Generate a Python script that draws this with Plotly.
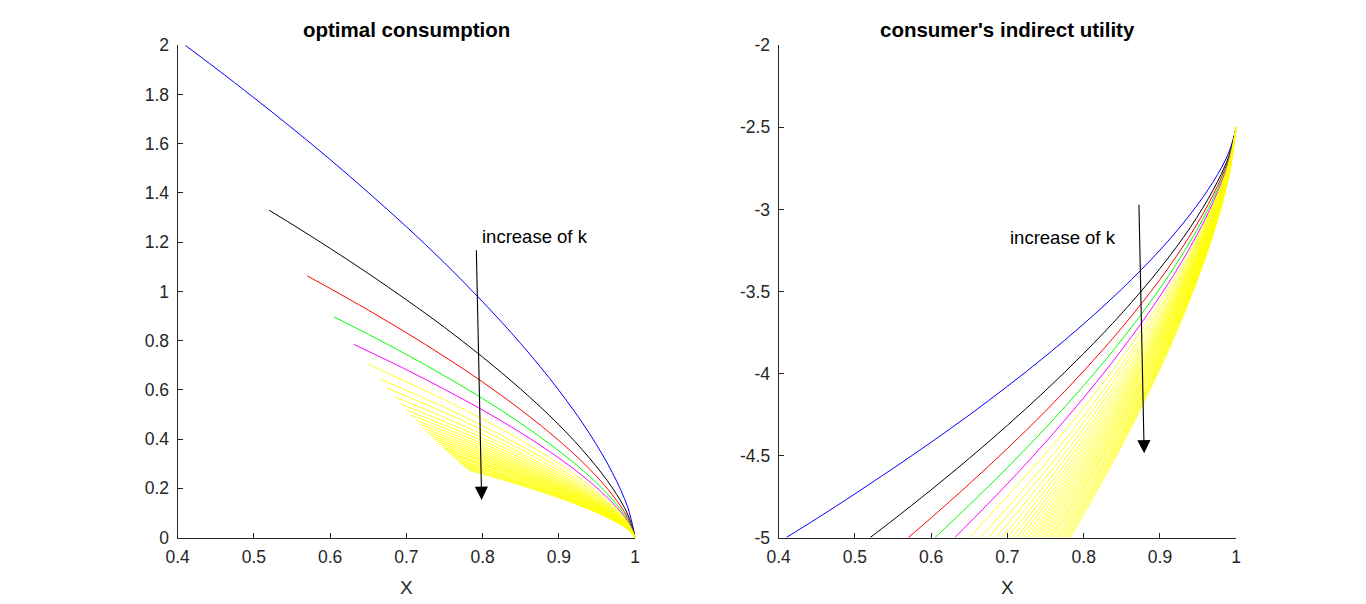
import plotly.graph_objects as go

# ---------------- data ----------------
X_TICKS = [0.4, 0.5, 0.6, 0.7, 0.8, 0.9, 1.0]
X_TICK_TEXT = ["0.4", "0.5", "0.6", "0.7", "0.8", "0.9", "1"]
Y1_TICKS = [0, 0.2, 0.4, 0.6, 0.8, 1.0, 1.2, 1.4, 1.6, 1.8, 2.0]
Y1_TICK_TEXT = ["0", "0.2", "0.4", "0.6", "0.8", "1", "1.2", "1.4", "1.6", "1.8", "2"]
Y2_TICKS = [-5, -4.5, -4, -3.5, -3, -2.5, -2]
Y2_TICK_TEXT = ["-5", "-4.5", "-4", "-3.5", "-3", "-2.5", "-2"]

TITLE_LEFT = "optimal consumption"
TITLE_RIGHT = "consumer's indirect utility"
X_LABEL = "X"
ARROW_TEXT = "increase of k"

BLUE_X = [0.41, 0.45, 0.50, 0.55, 0.60, 0.65, 0.70, 0.75, 0.80, 0.85, 0.90, 0.94, 0.97, 0.99, 1.00]
BLUE_C = [2.0, 1.907, 1.787, 1.664, 1.536, 1.402, 1.263, 1.116, 0.958, 0.788, 0.598, 0.423, 0.264, 0.125, 0.0]
BLUE_V = [-5.0, -4.884, -4.734, -4.579, -4.419, -4.253, -4.078, -3.894, -3.698, -3.485, -3.248, -3.028, -2.830, -2.656, -2.5]

BLACK_X = [0.52, 0.55, 0.60, 0.65, 0.70, 0.75, 0.80, 0.85, 0.90, 0.94, 0.97, 0.99, 1.00]
BLACK_C = [1.33, 1.273, 1.175, 1.073, 0.966, 0.854, 0.733, 0.603, 0.458, 0.323, 0.202, 0.096, 0.0]
BLACK_V = [-5.0, -4.893, -4.709, -4.517, -4.316, -4.104, -3.878, -3.633, -3.360, -3.108, -2.879, -2.680, -2.5]

RED_X = [0.57, 0.60, 0.65, 0.70, 0.75, 0.80, 0.85, 0.90, 0.94, 0.97, 0.99, 1.00]
RED_C = [1.063, 1.012, 0.924, 0.832, 0.735, 0.632, 0.519, 0.394, 0.279, 0.174, 0.082, 0.0]
RED_V = [-5.0, -4.880, -4.673, -4.457, -4.229, -3.985, -3.721, -3.427, -3.155, -2.909, -2.694, -2.5]

GREEN_X = [0.605, 0.65, 0.70, 0.75, 0.80, 0.85, 0.90, 0.94, 0.97, 0.99, 1.00]
GREEN_C = [0.897, 0.826, 0.744, 0.657, 0.565, 0.464, 0.352, 0.249, 0.155, 0.074, 0.0]
GREEN_V = [-5.0, -4.802, -4.573, -4.332, -4.074, -3.794, -3.482, -3.194, -2.933, -2.705, -2.5]

MAGENTA_X = [0.631, 0.65, 0.70, 0.75, 0.80, 0.85, 0.90, 0.94, 0.97, 0.99, 1.00]
MAGENTA_C = [0.785, 0.757, 0.682, 0.602, 0.518, 0.426, 0.323, 0.228, 0.142, 0.067, 0.0]
MAGENTA_V = [-5.0, -4.911, -4.672, -4.419, -4.148, -3.855, -3.529, -3.227, -2.954, -2.715, -2.5]

# yellow family: start abscissa, start consumption, then values on a shared grid
YELLOW_X0 = [0.650, 0.665, 0.675, 0.685, 0.693, 0.700, 0.706, 0.712, 0.717, 0.722,
             0.727, 0.731, 0.735, 0.739, 0.743, 0.747, 0.750, 0.754, 0.757, 0.760,
             0.764, 0.767, 0.770, 0.773, 0.776, 0.779, 0.782]
YELLOW_C0 = [0.704, 0.645, 0.607, 0.571, 0.542, 0.518, 0.497, 0.477, 0.461, 0.444,
             0.429, 0.416, 0.404, 0.392, 0.380, 0.368, 0.359, 0.348, 0.340, 0.331,
             0.320, 0.312, 0.304, 0.296, 0.289, 0.281, 0.273]
YELLOW_V0 = -5.0
YELLOW_GRID = [0.75, 0.80, 0.85, 0.90, 0.94, 0.97, 0.99, 1.00]
YELLOW_C = [
    [0.560, 0.481, 0.396, 0.300, 0.212, 0.132, 0.063, 0.0],
    [0.529, 0.454, 0.374, 0.284, 0.200, 0.125, 0.059, 0.0],
    [0.508, 0.437, 0.359, 0.272, 0.193, 0.120, 0.057, 0.0],
    [0.488, 0.419, 0.344, 0.261, 0.185, 0.115, 0.055, 0.0],
    [0.471, 0.405, 0.333, 0.253, 0.179, 0.111, 0.053, 0.0],
    [0.457, 0.393, 0.323, 0.245, 0.173, 0.108, 0.051, 0.0],
    [0.445, 0.382, 0.314, 0.239, 0.169, 0.105, 0.050, 0.0],
    [0.433, 0.372, 0.306, 0.232, 0.164, 0.102, 0.048, 0.0],
    [0.423, 0.364, 0.299, 0.227, 0.160, 0.100, 0.047, 0.0],
    [0.413, 0.355, 0.292, 0.222, 0.157, 0.098, 0.046, 0.0],
    [0.404, 0.347, 0.285, 0.216, 0.153, 0.095, 0.045, 0.0],
    [0.396, 0.340, 0.280, 0.212, 0.150, 0.094, 0.044, 0.0],
    [None, 0.333, 0.274, 0.208, 0.147, 0.092, 0.043, 0.0],
    [None, 0.327, 0.269, 0.204, 0.144, 0.090, 0.043, 0.0],
    [None, 0.320, 0.263, 0.200, 0.141, 0.088, 0.042, 0.0],
    [None, 0.314, 0.258, 0.196, 0.138, 0.086, 0.041, 0.0],
    [None, 0.309, 0.254, 0.193, 0.136, 0.085, 0.040, 0.0],
    [None, 0.302, 0.249, 0.189, 0.133, 0.083, 0.039, 0.0],
    [None, 0.297, 0.245, 0.186, 0.131, 0.082, 0.039, 0.0],
    [None, 0.293, 0.241, 0.183, 0.129, 0.081, 0.038, 0.0],
    [None, 0.286, 0.235, 0.179, 0.126, 0.079, 0.037, 0.0],
    [None, 0.281, 0.231, 0.176, 0.124, 0.077, 0.037, 0.0],
    [None, 0.277, 0.227, 0.173, 0.122, 0.076, 0.036, 0.0],
    [None, 0.272, 0.223, 0.170, 0.120, 0.075, 0.035, 0.0],
    [None, 0.267, 0.220, 0.167, 0.118, 0.074, 0.035, 0.0],
    [None, 0.262, 0.216, 0.164, 0.116, 0.072, 0.034, 0.0],
    [None, 0.258, 0.212, 0.161, 0.114, 0.071, 0.034, 0.0],
]
YELLOW_V = [
    [-4.489, -4.208, -3.905, -3.566, -3.253, -2.970, -2.723, -2.5],
    [-4.549, -4.260, -3.947, -3.599, -3.276, -2.984, -2.729, -2.5],
    [-4.592, -4.297, -3.977, -3.621, -3.292, -2.994, -2.734, -2.5],
    [-4.636, -4.335, -4.009, -3.646, -3.309, -3.005, -2.739, -2.5],
    [-4.674, -4.368, -4.036, -3.666, -3.324, -3.014, -2.743, -2.5],
    [-4.709, -4.397, -4.060, -3.684, -3.337, -3.022, -2.747, -2.5],
    [-4.739, -4.424, -4.082, -3.701, -3.348, -3.029, -2.751, -2.5],
    [-4.771, -4.451, -4.104, -3.718, -3.360, -3.037, -2.754, -2.5],
    [-4.798, -4.474, -4.123, -3.732, -3.371, -3.043, -2.757, -2.5],
    [-4.826, -4.498, -4.143, -3.747, -3.381, -3.050, -2.760, -2.5],
    [-4.855, -4.523, -4.163, -3.763, -3.392, -3.057, -2.764, -2.5],
    [-4.879, -4.543, -4.180, -3.775, -3.401, -3.062, -2.766, -2.5],
    [None, -4.564, -4.197, -3.788, -3.410, -3.068, -2.769, -2.5],
    [None, -4.586, -4.215, -3.802, -3.420, -3.074, -2.772, -2.5],
    [None, -4.608, -4.233, -3.816, -3.430, -3.080, -2.775, -2.5],
    [None, -4.630, -4.252, -3.830, -3.440, -3.086, -2.778, -2.5],
    [None, -4.648, -4.266, -3.840, -3.447, -3.091, -2.780, -2.5],
    [None, -4.672, -4.285, -3.855, -3.458, -3.098, -2.783, -2.5],
    [None, -4.690, -4.300, -3.867, -3.466, -3.103, -2.785, -2.5],
    [None, -4.708, -4.316, -3.878, -3.474, -3.108, -2.788, -2.5],
    [None, -4.734, -4.337, -3.894, -3.485, -3.115, -2.791, -2.5],
    [None, -4.753, -4.353, -3.906, -3.494, -3.120, -2.794, -2.5],
    [None, -4.773, -4.369, -3.919, -3.502, -3.126, -2.796, -2.5],
    [None, -4.794, -4.386, -3.932, -3.511, -3.131, -2.799, -2.5],
    [None, -4.814, -4.403, -3.945, -3.521, -3.137, -2.802, -2.5],
    [None, -4.836, -4.420, -3.958, -3.530, -3.143, -2.804, -2.5],
    [None, -4.858, -4.438, -3.971, -3.540, -3.149, -2.807, -2.5],
]

# arrow annotations (tail -> head, data units) and text positions
ARROW_LEFT = dict(tail=(0.7917, 1.1735), head=(0.7987, 0.153))
ARROW_RIGHT = dict(tail=(0.8724, -2.962), head=(0.8793, -4.486))
TEXT_LEFT = (0.8687, 1.222)
TEXT_RIGHT = (0.7725, -3.169)

# ---------------- figure ----------------
FONT = "Liberation Sans, Arial, Helvetica, sans-serif"
AX_COLOR = "#262626"

fig = go.Figure()


def add_line(x, y, color, xa, ya, width=1.0):
    pts = [(a, b) for a, b in zip(x, y) if b is not None]
    fig.add_trace(go.Scatter(
        x=[p[0] for p in pts], y=[p[1] for p in pts], mode="lines",
        line=dict(color=color, width=width, shape="spline", smoothing=1.0),
        xaxis=xa, yaxis=ya, showlegend=False, hoverinfo="skip"))


main_curves = [
    (BLUE_X, BLUE_C, BLUE_V, "#0000ff"),
    (BLACK_X, BLACK_C, BLACK_V, "#000000"),
    (RED_X, RED_C, RED_V, "#ff0000"),
    (GREEN_X, GREEN_C, GREEN_V, "#00ff00"),
    (MAGENTA_X, MAGENTA_C, MAGENTA_V, "#ff00ff"),
]
for xs, cs, vs, col in main_curves:
    add_line(xs, cs, col, "x", "y")
    add_line(xs, vs, col, "x2", "y2")

for x0, c0, crow, vrow in zip(YELLOW_X0, YELLOW_C0, YELLOW_C, YELLOW_V):
    xs = [x0] + YELLOW_GRID
    add_line(xs, [c0] + crow, "#ffff00", "x", "y", width=0.9)
    add_line(xs, [YELLOW_V0] + vrow, "#ffff00", "x2", "y2", width=0.9)

axis_common = dict(
    showgrid=False, zeroline=False, showline=True, linecolor=AX_COLOR, linewidth=1,
    ticks="inside", ticklen=5, tickwidth=1, tickcolor=AX_COLOR, mirror=False,
    automargin=False,
    tickfont=dict(family=FONT, size=17.5, color=AX_COLOR),
)

fig.update_layout(
    template="none",
    width=1366, height=604,
    margin=dict(l=0, r=0, t=0, b=0, pad=0),
    paper_bgcolor="white", plot_bgcolor="white",
    showlegend=False,
    xaxis=dict(domain=[0.13, 0.465], range=[0.4, 1.0], tickvals=X_TICKS,
               ticktext=X_TICK_TEXT, anchor="y", ticklabelstandoff=3, **axis_common),
    yaxis=dict(domain=[0.11, 0.925], range=[0.0, 2.0], tickvals=Y1_TICKS,
               ticktext=Y1_TICK_TEXT, anchor="x", ticklabelstandoff=4, **axis_common),
    xaxis2=dict(domain=[0.57, 0.905], range=[0.4, 1.0], tickvals=X_TICKS,
                ticktext=X_TICK_TEXT, anchor="y2", ticklabelstandoff=3, **axis_common),
    yaxis2=dict(domain=[0.11, 0.925], range=[-5.0, -2.0], tickvals=Y2_TICKS,
                ticktext=Y2_TICK_TEXT, anchor="x2", ticklabelstandoff=4, **axis_common),
)

annotations = []
# titles and axis labels
for xc, txt in [((0.13 + 0.465) / 2, TITLE_LEFT), ((0.57 + 0.905) / 2, TITLE_RIGHT)]:
    annotations.append(dict(x=xc, y=1 - 29.5 / 604, xref="paper", yref="paper",
                            text="<b>%s</b>" % txt, showarrow=False,
                            xanchor="center", yanchor="middle",
                            font=dict(family=FONT, size=20.5, color="#000000")))
    annotations.append(dict(x=xc, y=1 - 587 / 604, xref="paper", yref="paper",
                            text=X_LABEL, showarrow=False,
                            xanchor="center", yanchor="middle",
                            font=dict(family=FONT, size=19, color=AX_COLOR)))

for arr, txtpos, xr, yr in [(ARROW_LEFT, TEXT_LEFT, "x", "y"),
                            (ARROW_RIGHT, TEXT_RIGHT, "x2", "y2")]:
    annotations.append(dict(x=arr["head"][0], y=arr["head"][1], xref=xr, yref=yr,
                            ax=arr["tail"][0], ay=arr["tail"][1], axref=xr, ayref=yr,
                            text="", showarrow=True, arrowhead=2, arrowsize=2.4,
                            arrowwidth=1.1, arrowcolor="#000000", standoff=0))
    annotations.append(dict(x=txtpos[0], y=txtpos[1], xref=xr, yref=yr,
                            text=ARROW_TEXT, showarrow=False,
                            xanchor="center", yanchor="middle",
                            font=dict(family=FONT, size=18.5, color="#000000")))

fig.update_layout(annotations=annotations)

fig.write_html("out.html")
